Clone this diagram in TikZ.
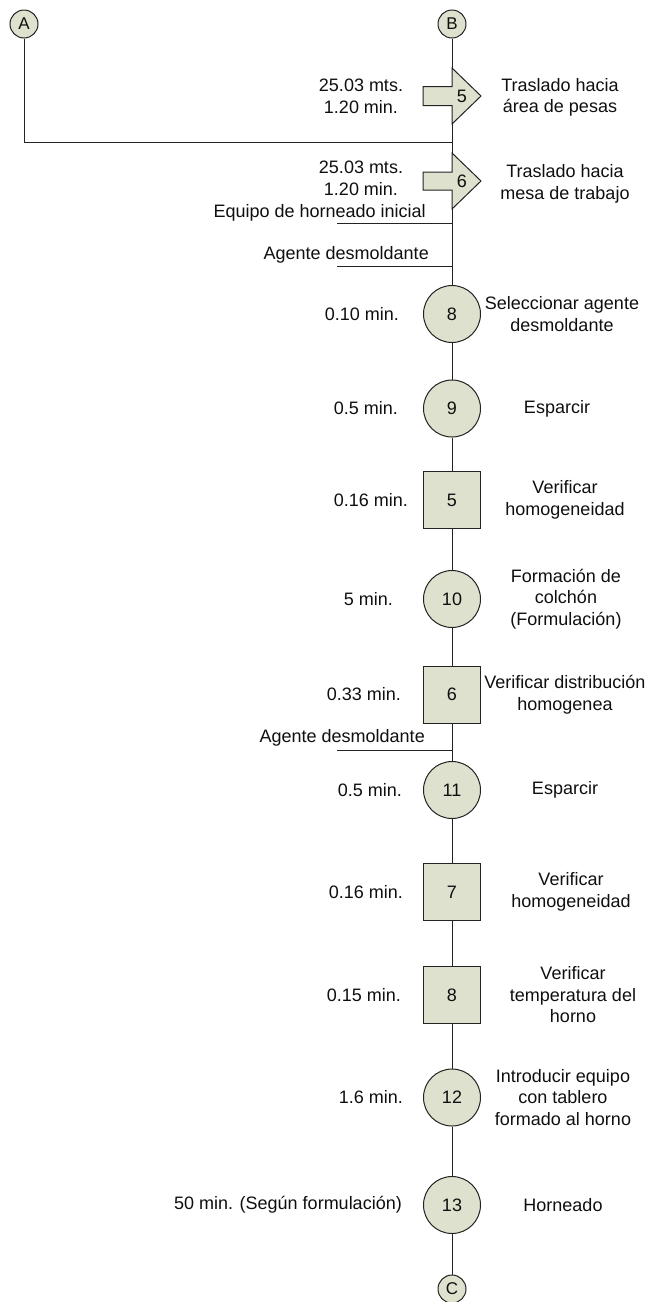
\documentclass[tikz,border=0pt]{standalone}
\usepackage{fontspec}
\setmainfont{Liberation Sans}
\definecolor{boxfill}{RGB}{221,225,205}
\definecolor{edge}{RGB}{35,35,35}
\definecolor{txt}{RGB}{15,15,15}
\begin{document}
\begin{tikzpicture}[x=1pt,y=-1pt,
  every node/.style={font=\fontsize{18}{21.5}\selectfont, text=txt},
  flow/.style={draw=edge, line width=1pt},
  oper/.style={circle, draw=edge, fill=boxfill, line width=1pt, minimum size=57pt, inner sep=0pt},
  insp/.style={rectangle, draw=edge, fill=boxfill, line width=1pt, minimum size=57pt, inner sep=0pt},
  link/.style={circle, draw=edge, fill=boxfill, line width=1pt, minimum size=28pt, inner sep=0pt, font=\fontsize{17}{20}\selectfont},
  lefttxt/.style={anchor=east, inner sep=0pt},
  righttxt/.style={align=center, inner sep=0pt},
  sidetxt/.style={anchor=east, inner sep=0pt},
]
\useasboundingbox (0,0) rectangle (652,1302);

% connectors A, B, C
\node[link] (A) at (24,24) {A};
\node[link] (B) at (452,24) {B};
\node[link] (C) at (452,1289) {C};

% transport 5
\coordinate (t5top) at (452,68);
\coordinate (t5bot) at (452,124);
\draw[flow, fill=boxfill] (423,86.5) -- (452,86.5) -- (t5top) -- (481,96) -- (t5bot) -- (452,105.5) -- (423,105.5) -- cycle;
\node (t5) at (462,96) {5};
\node[righttxt] (t5l) at (361,96.5) {25.03 mts.\\1.20 min.};
\node[righttxt] (t5r) at (560,97.5) {Traslado hacia\\área de pesas};

% transport 6
\coordinate (t6top) at (452,153);
\coordinate (t6bot) at (452,209);
\draw[flow, fill=boxfill] (423,172) -- (452,172) -- (t6top) -- (481,181) -- (t6bot) -- (452,190) -- (423,190) -- cycle;
\node (t6) at (462,181) {6};
\node[righttxt] (t6l) at (361,178.5) {25.03 mts.\\1.20 min.};
\node[righttxt] (t6r) at (565,184) {Traslado hacia\\mesa de trabajo};

% junction of line A
\coordinate (jA) at (452,142);

% material inputs
\coordinate (in1) at (452,223);
\coordinate (in1s) at (337,223);
\node[sidetxt] (in1t) at (426,213) {Equipo de horneado inicial};
\coordinate (in2) at (452,266);
\coordinate (in2s) at (337,266);
\node[sidetxt] (in2t) at (429,255) {Agente desmoldante};
\coordinate (in3) at (452,750);
\coordinate (in3s) at (337,750);
\node[sidetxt] (in3t) at (425,738) {Agente desmoldante};

% operations and inspections
\node[oper] (o8)  at (452,314)    {8};
\node[oper] (o9)  at (452,408.5)  {9};
\node[insp] (i5)  at (452,500)    {5};
\node[oper] (o10) at (452,599)    {10};
\node[insp] (i6)  at (452,694.5)  {6};
\node[oper] (o11) at (452,790)    {11};
\node[insp] (i7)  at (452,892)    {7};
\node[insp] (i8)  at (452,995)    {8};
\node[oper] (o12) at (452,1097.5) {12};
\node[oper] (o13) at (452,1205)   {13};

% times
\node[lefttxt] (l8)  at (399,314)    {0.10 min.};
\node[lefttxt] (l9)  at (398,408.5)  {0.5 min.};
\node[lefttxt] (l5)  at (408,500)    {0.16 min.};
\node[lefttxt] (l10) at (393,599)    {5 min.};
\node[lefttxt] (l6)  at (401,694.5)  {0.33 min.};
\node[lefttxt] (l11) at (402,790)    {0.5 min.};
\node[lefttxt] (l7)  at (403,892)    {0.16 min.};
\node[lefttxt] (li8) at (401,995)    {0.15 min.};
\node[lefttxt] (l12) at (403,1097.5) {1.6 min.};
\node[lefttxt] (l13) at (402,1205)   {50 min. (Según formulación)};

% descriptions
\node[righttxt] (r8)  at (562,314)    {Seleccionar agente\\desmoldante};
\node[righttxt] (r9)  at (557,408.5)  {Esparcir};
\node[righttxt] (r5)  at (565,500)    {Verificar\\homogeneidad};
\node[righttxt] (r10) at (566,599)    {Formación de\\colchón\\(Formulación)};
\node[righttxt] (r6)  at (565,694.5)  {Verificar distribución\\homogenea};
\node[righttxt] (r11) at (565,790)    {Esparcir};
\node[righttxt] (r7)  at (571,892)    {Verificar\\homogeneidad};
\node[righttxt] (ri8) at (573,995)    {Verificar\\temperatura del\\horno};
\node[righttxt] (r12) at (563,1097.5) {Introducir equipo\\con tablero\\formado al horno};
\node[righttxt] (r13) at (563,1205)   {Horneado};

% flow lines
\begin{scope}[on background layer/.try]
\end{scope}
\draw[flow] (B) -- (t5top);
\draw[flow] (t5bot) -- (t6top);
\draw[flow] (A) |- (jA);
\draw[flow] (t6bot) -- (o8);
\draw[flow] (in1s) -- (in1);
\draw[flow] (in2s) -- (in2);
\draw[flow] (o8) -- (o9);
\draw[flow] (o9) -- (i5);
\draw[flow] (i5) -- (o10);
\draw[flow] (o10) -- (i6);
\draw[flow] (i6) -- (o11);
\draw[flow] (in3s) -- (in3);
\draw[flow] (o11) -- (i7);
\draw[flow] (i7) -- (i8);
\draw[flow] (i8) -- (o12);
\draw[flow] (o12) -- (o13);
\draw[flow] (o13) -- (C);
\end{tikzpicture}
\end{document}
